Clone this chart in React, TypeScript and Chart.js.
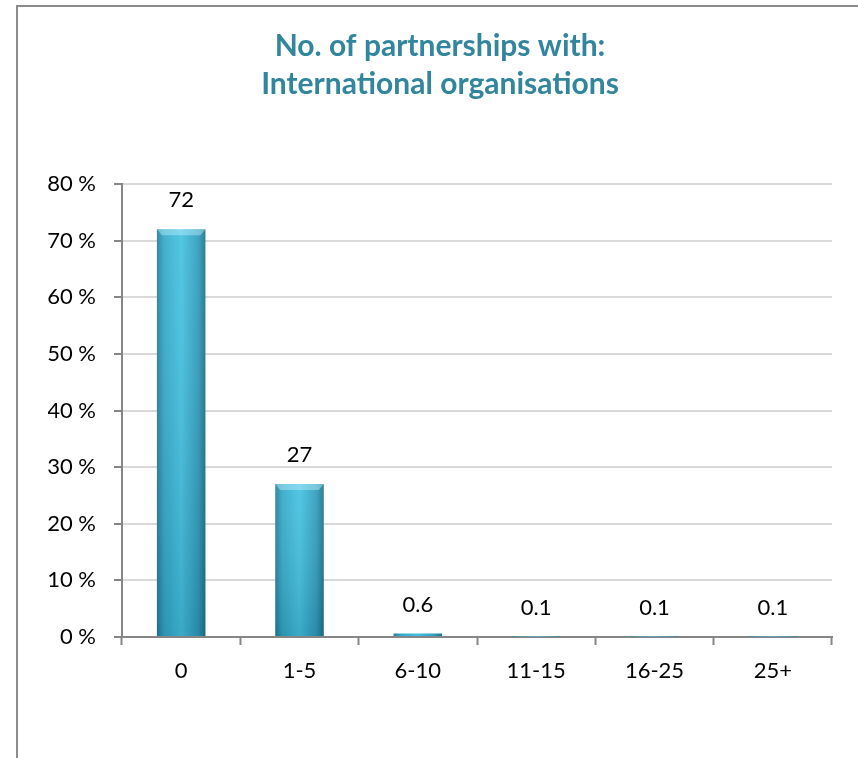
import React, { useEffect, useRef } from "react";
import { Chart, registerables } from "chart.js";

Chart.register(...registerables);

const categories = ["0", "1-5", "6-10", "11-15", "16-25", "25+"];
const values = [72, 27, 0.6, 0.1, 0.1, 0.1];
const yMax = 80;
const yStep = 10;
const titleLines = ["No. of partnerships with:", "International organisations"];

const FONT = "Lato, 'Open Sans', sans-serif";
const BAR_PCT = 0.41;

const framePlugin = {
  id: "frame",
  beforeDraw(chart: any) {
    const ctx = chart.ctx;
    ctx.save();
    ctx.fillStyle = "#ffffff";
    ctx.fillRect(0, 0, chart.width, chart.height);
    ctx.strokeStyle = "#8c8c8c";
    ctx.lineWidth = 2;
    ctx.beginPath();
    ctx.moveTo(17, chart.height);
    ctx.lineTo(17, 6);
    ctx.lineTo(chart.width, 6);
    ctx.stroke();
    ctx.restore();
  },
};

const barStylePlugin = {
  id: "barStyle",
  afterDatasetsDraw(chart: any) {
    const ctx = chart.ctx;
    const meta = chart.getDatasetMeta(0);
    ctx.save();
    meta.data.forEach((el: any, i: number) => {
      const { x, y, base, width } = el.getProps(["x", "y", "base", "width"], true);
      const left = x - width / 2;
      const h = base - y;
      if (h > 6) {
        const g = ctx.createLinearGradient(0, y, 0, base);
        g.addColorStop(0, "rgba(255,255,255,0.08)");
        g.addColorStop(1, "rgba(0,40,60,0.16)");
        ctx.fillStyle = g;
        ctx.fillRect(left, y, width, h);
        // top bevel
        ctx.fillStyle = "rgba(190,240,250,0.45)";
        ctx.beginPath();
        ctx.moveTo(left, y);
        ctx.lineTo(left + width, y);
        ctx.lineTo(left + width - 5, y + 6);
        ctx.lineTo(left + 5, y + 6);
        ctx.closePath();
        ctx.fill();
      }
      // data label
      ctx.fillStyle = "#000000";
      ctx.font = `22px ${FONT}`;
      ctx.textAlign = "center";
      ctx.textBaseline = "middle";
      ctx.fillText(String(values[i]), x, y - 29);
    });
    ctx.restore();
  },
};

export default function App() {
  const ref = useRef<HTMLCanvasElement>(null);

  useEffect(() => {
    if (!ref.current) return;
    const chart = new Chart(ref.current, {
      type: "bar",
      data: {
        labels: categories,
        datasets: [
          {
            data: values,
            backgroundColor: (c: any) => {
              const ch = c.chart;
              const xs = ch.scales && ch.scales.x;
              if (!xs || !ch.chartArea) return "#38B3D3";
              const cx = xs.getPixelForValue(c.dataIndex);
              const w = (xs.width / categories.length) * BAR_PCT;
              const g = ch.ctx.createLinearGradient(cx - w / 2, 0, cx + w / 2, 0);
              g.addColorStop(0, "#247F99");
              g.addColorStop(0.15, "#34A9C9");
              g.addColorStop(0.5, "#44C2E2");
              g.addColorStop(0.85, "#2F9CBC");
              g.addColorStop(1, "#1E728B");
              return g;
            },
            borderWidth: 0,
            barPercentage: BAR_PCT,
            categoryPercentage: 1,
          },
        ],
      },
      options: {
        animation: false,
        responsive: false,
        devicePixelRatio: 1,
        layout: { padding: { top: 6, right: 26, bottom: 0, left: 48 } },
        plugins: {
          legend: { display: false },
          tooltip: { enabled: false },
          title: {
            display: true,
            text: titleLines,
            color: "#31859C",
            font: { family: FONT, size: 30, weight: "bold", lineHeight: 38 / 30 },
            padding: { top: 21, bottom: 81 },
          },
        },
        scales: {
          x: {
            grid: {
              display: true,
              drawOnChartArea: false,
              drawTicks: true,
              tickLength: 8,
              tickColor: "#868686",
              tickWidth: 2,
              offset: true,
            },
            border: { display: true, color: "#868686", width: 2 },
            ticks: {
              color: "#000000",
              font: { family: FONT, size: 22 },
              padding: 13,
              maxRotation: 0,
            },
            afterFit: (s: any) => {
              s.height = 121;
            },
          },
          y: {
            min: 0,
            max: yMax,
            grid: {
              color: "#D9D9D9",
              lineWidth: 2,
              tickLength: 8,
              tickColor: "#868686",
              tickWidth: 2,
            },
            border: { display: true, color: "#868686", width: 2 },
            ticks: {
              stepSize: yStep,
              color: "#000000",
              font: { family: FONT, size: 22 },
              padding: 18,
              callback: (v: any) => `${v} %`,
            },
            afterFit: (s: any) => {
              s.width = 74;
            },
          },
        },
      },
      plugins: [framePlugin, barStylePlugin],
    });
    return () => chart.destroy();
  }, []);

  return (
    <div style={{ position: "fixed", left: 0, top: 0, width: 858, height: 758, background: "#fff" }}>
      <canvas ref={ref} width={858} height={758} style={{ display: "block" }} />
    </div>
  );
}
